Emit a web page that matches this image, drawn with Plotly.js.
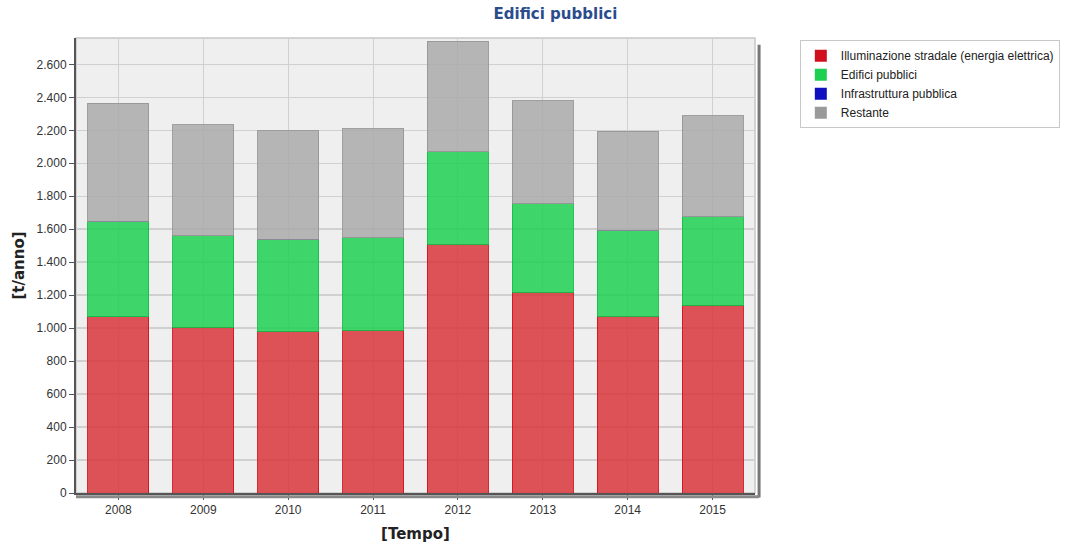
<!DOCTYPE html>
<html>
<head>
<meta charset="utf-8">
<script src="https://cdn.plot.ly/plotly-3.0.1.min.js"></script>
<style>html,body{margin:0;padding:0;background:#fff;}#chart{width:1087px;height:553px;}</style>
</head>
<body>
<div id="chart"></div>
<script>
const years = ['2008','2009','2010','2011','2012','2013','2014','2015'];
const illuminazione = [1070, 1005, 980, 988, 1510, 1218, 1072, 1140];
const edifici = [577, 554, 560, 559, 560, 536, 523, 535];
const infrastruttura = [0, 0, 0, 0, 0, 0, 0, 0];
const restante = [718, 676, 658, 663, 670, 624, 600, 613];

const seriesNames = ['Illuminazione stradale (energia elettrica)', 'Edifici pubblici', 'Infrastruttura pubblica', 'Restante'];
const seriesData = [illuminazione, edifici, infrastruttura, restante];
const barFill = ['rgba(217,54,60,0.85)', 'rgba(30,208,83,0.85)', 'rgba(20,20,200,0.85)', 'rgba(170,170,170,0.85)'];
const barLine = ['rgba(210,20,30,0.9)', 'rgba(20,190,70,0.9)', 'rgba(10,10,180,0.9)', 'rgba(150,150,150,0.9)'];
const legendColor = ['#d0101e', '#1fcf4f', '#1010c0', '#9a9a9a'];

const traces = [];
seriesData.forEach((vals, i) => {
  traces.push({
    type: 'bar', x: years, y: vals, name: seriesNames[i], showlegend: false,
    marker: {color: barFill[i], line: {color: barLine[i], width: 1}},
    hoverinfo: 'x+y+name'
  });
});
seriesData.forEach((vals, i) => {
  traces.push({
    type: 'scatter', mode: 'markers', x: [null], y: [null], name: seriesNames[i],
    marker: {symbol: 'square', size: 10, color: legendColor[i]}, hoverinfo: 'skip'
  });
});

const layout = {
  width: 1087, height: 553,
  margin: {l: 76, r: 332, t: 38, b: 60},
  paper_bgcolor: '#ffffff',
  plot_bgcolor: '#efefef',
  barmode: 'stack',
  bargap: 0.28,
  font: {family: 'Liberation Sans, Arial, sans-serif', size: 12, color: '#333'},
  title: {text: '<b>Edifici pubblici</b>', x: 0.511, xref: 'container', y: 0.985, yref: 'container', yanchor: 'top',
    font: {family: 'DejaVu Sans, Verdana, sans-serif', size: 15, color: '#2b4c8c'}},
  xaxis: {
    type: 'category',
    title: {text: '<b>[Tempo]</b>', font: {family: 'DejaVu Sans, Verdana, sans-serif', size: 15, color: '#222'}, standoff: 12},
    showgrid: true, gridcolor: '#d0d0d0', gridwidth: 1,
    ticks: 'outside', ticklen: 5, tickcolor: '#555',
    showline: true, linecolor: '#555', linewidth: 2,
    tickfont: {size: 12, color: '#333'},
    mirror: false
  },
  yaxis: {
    range: [0, 2760],
    dtick: 200, tick0: 0,
    tickformat: ',d',
    separatethousands: true,
    title: {text: '<b>[t/anno]</b>', font: {family: 'DejaVu Sans, Verdana, sans-serif', size: 15, color: '#222'}, standoff: 8},
    showgrid: true, gridcolor: '#d0d0d0', gridwidth: 1.5,
    zeroline: false,
    ticks: 'outside', ticklen: 5, tickcolor: '#555',
    showline: true, linecolor: '#555', linewidth: 2,
    tickfont: {size: 12, color: '#333'}
  },
  separators: ',.',
  legend: {
    x: 1.066, xanchor: 'left', y: 0.995, yanchor: 'top',
    traceorder: 'normal',
    bgcolor: '#ffffff', bordercolor: '#c8c8c8', borderwidth: 1,
    font: {family: 'Liberation Sans, Arial, sans-serif', size: 12, color: '#222'},
    itemsizing: 'constant', tracegroupgap: 0
  },
  shapes: [
    {type: 'rect', xref: 'paper', yref: 'paper', x0: 0, x1: 1, y0: 0, y1: 1, line: {color: '#c8c8c8', width: 1.5}, layer: 'below'},
    {type: 'line', xref: 'paper', yref: 'paper', x0: 1.006, x1: 1.006, y0: -0.01, y1: 0.985, line: {color: '#777', width: 3}},
    {type: 'line', xref: 'paper', yref: 'paper', x0: 0.0, x1: 1.006, y0: -0.008, y1: -0.008, line: {color: '#888', width: 3}}
  ]
};

Plotly.newPlot('chart', traces, layout, {displayModeBar: false, staticPlot: true});
</script>
</body>
</html>
